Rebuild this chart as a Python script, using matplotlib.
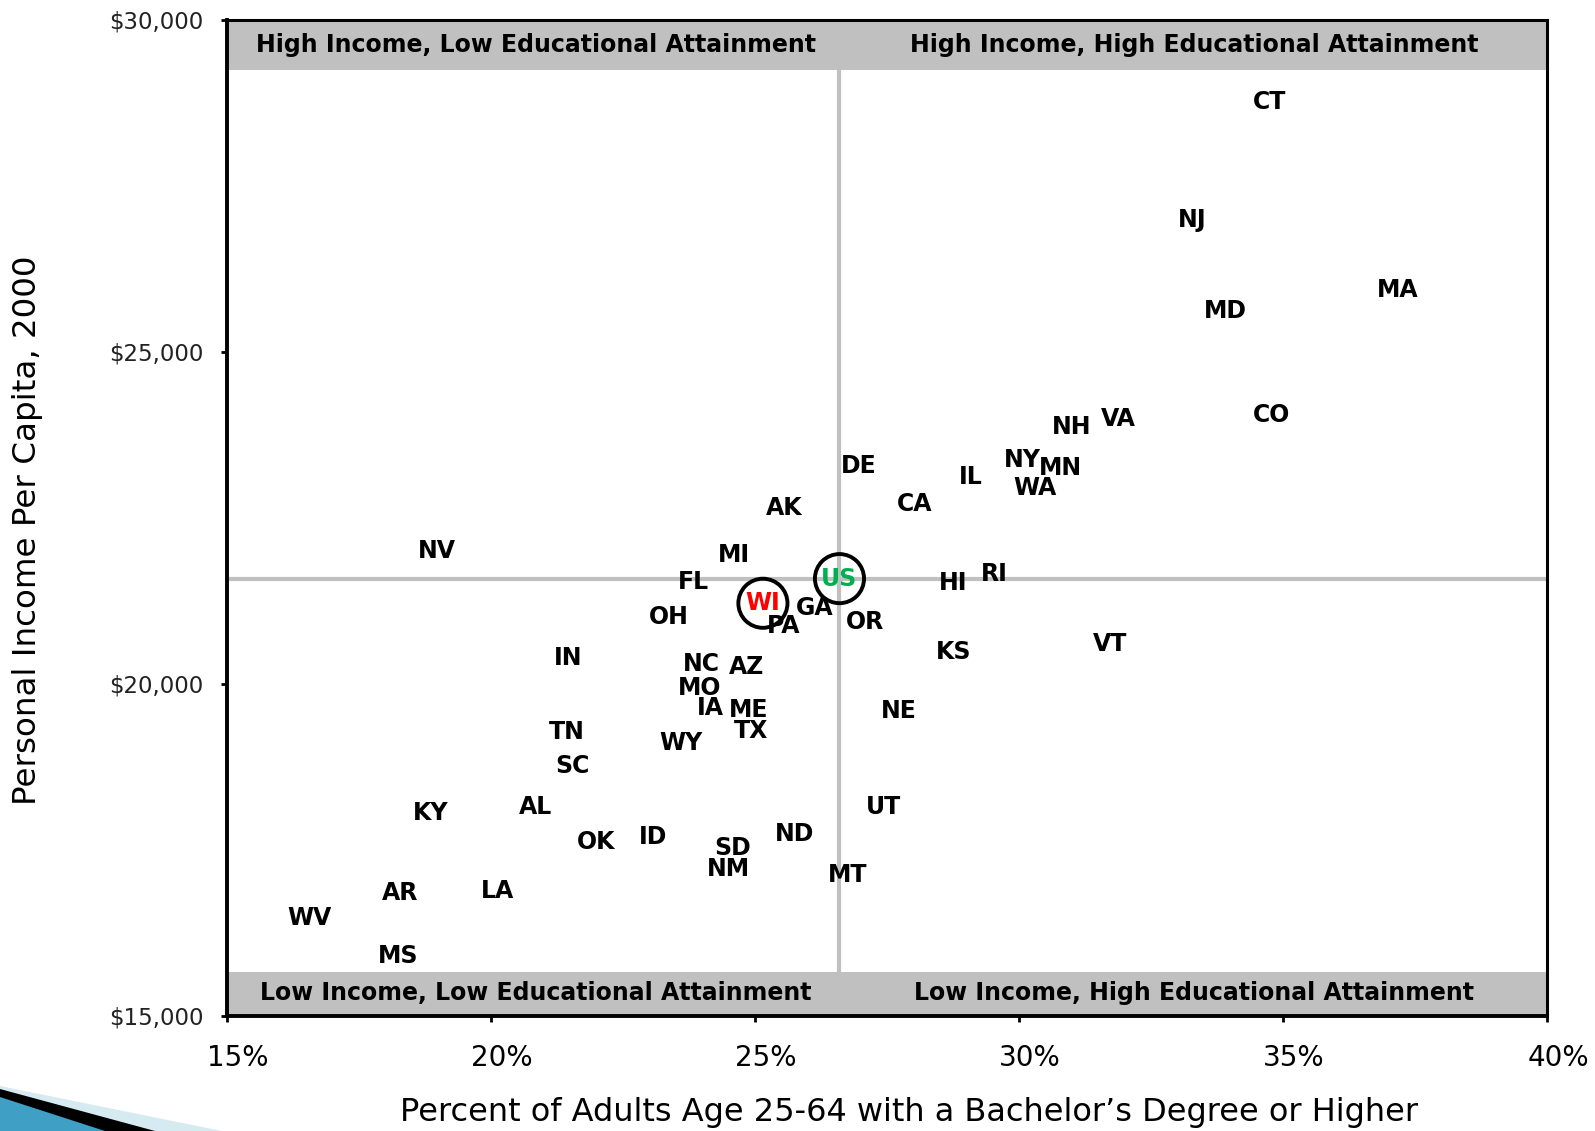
import matplotlib
matplotlib.use("Agg")
import matplotlib.pyplot as plt
from matplotlib.patches import Polygon
from matplotlib.transforms import ScaledTranslation
from matplotlib.ticker import FuncFormatter

# ---------------- data ----------------
states = ["CT", "NJ", "MA", "MD", "CO", "VA", "NH", "DE", "NY", "MN",
          "IL", "WA", "CA", "AK", "NV", "MI", "RI", "HI", "FL", "WI",
          "GA", "OH", "PA", "OR", "KS", "VT", "IN", "NC", "AZ", "MO",
          "IA", "ME", "NE", "TX", "TN", "WY", "SC", "UT", "AL", "KY",
          "ND", "ID", "OK", "SD", "NM", "MT", "AR", "LA", "WV", "MS"]
pct_bachelor = [34.75, 33.28, 37.17, 33.90, 34.79, 31.88, 31.00, 26.96, 30.07, 30.79,
                29.09, 30.31, 28.03, 25.55, 18.98, 24.61, 29.53, 28.75, 23.84, 25.15,
                26.13, 23.36, 25.55, 27.09, 28.77, 31.73, 21.46, 23.98, 24.84, 23.96,
                24.15, 24.88, 27.73, 24.92, 21.44, 23.59, 21.54, 27.44, 20.84, 18.86,
                25.75, 23.07, 22.00, 24.57, 24.50, 26.75, 18.27, 20.13, 16.57, 18.25]
income = [28770, 26990, 25935, 25614, 24051, 23990, 23867, 23285, 23378, 23254,
          23116, 22948, 22718, 22657, 21998, 21937, 21661, 21523, 21538, 21216,
          21140, 21002, 20879, 20940, 20481, 20603, 20389, 20297, 20251, 19945,
          19638, 19608, 19593, 19286, 19270, 19117, 18765, 18152, 18152, 18060,
          17738, 17691, 17615, 17523, 17217, 17125, 16849, 16879, 16480, 15898]
us_label = "US"
us_pct = 26.6
us_income = 21587
highlight_state = "WI"

x_ticks = [15, 20, 25, 30, 35, 40]
y_ticks = [15000, 20000, 25000, 30000]
quadrant_labels = ["High Income, Low Educational Attainment",
                   "High Income, High Educational Attainment",
                   "Low Income, Low Educational Attainment",
                   "Low Income, High Educational Attainment"]
x_title = "Percent of Adults Age 25-64 with a Bachelor\u2019s Degree or Higher"
y_title = "Personal Income Per Capita, 2000"

# ---------------- figure ----------------
W, H = 1595, 1131
plt.rcParams['font.family'] = ['DejaVu Sans']
fig = plt.figure(figsize=(W / 100, H / 100), dpi=100)

left, right, bottom, top = 227 / W, 1547 / W, 1 - 1016 / H, 1 - 20 / H
ax = fig.add_axes([left, bottom, right - left, top - bottom])
ax.set_xlim(15, 40)
ax.set_ylim(15000, 30000)

grey = "#c0c0c0"
# quadrant dividing lines at US values
ax.axvline(us_pct, color=grey, lw=3, zorder=1)
ax.axhline(us_income, color=grey, lw=3, zorder=1)
# grey bands
ax.axhspan(29250, 30000, color=grey, zorder=2, lw=0)
ax.axhspan(15000, 15660, color=grey, zorder=2, lw=0)

# quadrant labels
qpos = [(0.2338, 0.9749), (0.7326, 0.9749), (0.2338, 0.0231), (0.7326, 0.0231)]
for (qx, qy), lab in zip(qpos, quadrant_labels):
    ax.text(qx, qy, lab, transform=ax.transAxes, ha="center", va="center",
            fontsize=17, fontweight="bold", zorder=4)

# state labels
for s, xv, yv in zip(states, pct_bachelor, income):
    col = "#ff0000" if s == highlight_state else "black"
    ax.text(xv, yv, s, ha="center", va="center", fontsize=17,
            fontweight="bold", color=col, zorder=5)
    if s == highlight_state:
        ax.scatter([xv], [yv], s=1250, facecolors="none", edgecolors="black",
                   linewidths=2.8, zorder=6)

ax.text(us_pct, us_income, us_label, ha="center", va="center", fontsize=17,
        fontweight="bold", color="#00b050", zorder=5)
ax.scatter([us_pct], [us_income], s=1250, facecolors="none", edgecolors="black",
           linewidths=2.8, zorder=6)

# axes styling
for sp in ax.spines.values():
    sp.set_color("black")
    sp.set_linewidth(2.2)
    sp.set_zorder(7)
ax.spines["left"].set_linewidth(2.8)
ax.spines["bottom"].set_linewidth(2.8)

ax.set_xticks(x_ticks)
ax.set_yticks(y_ticks)
ax.xaxis.set_major_formatter(FuncFormatter(lambda v, p: f"{v:.0f}%"))
ax.yaxis.set_major_formatter(FuncFormatter(lambda v, p: f"${v:,.0f}"))
ax.tick_params(axis="x", direction="out", length=4, width=2, labelsize=20,
               pad=16, colors="black")
ax.tick_params(axis="y", direction="out", length=4, width=2, labelsize=16.5,
               pad=13, colors="black")
for lab in ax.get_xticklabels():
    lab.set_transform(lab.get_transform() + ScaledTranslation(0.11, 0, fig.dpi_scale_trans))
for lab in ax.get_yticklabels():
    lab.set_color("#222222")

fig.text(909 / W, 1 - 1112 / H, x_title, ha="center", va="center", fontsize=23)
fig.text(27.5 / W, 1 - 530 / H, y_title, ha="center", va="center",
         fontsize=23.4, rotation=90)

# decorative swoosh in the lower-left corner
def fpoly(pts, color):
    fig.add_artist(Polygon([(x / W, 1 - y / H) for x, y in pts], closed=True,
                           transform=fig.transFigure, facecolor=color,
                           edgecolor="none"))

fpoly([(0, 1086), (0, 1131), (222, 1131)], "#d6eaf2")
fpoly([(0, 1089), (0, 1131), (155, 1131)], "black")
fpoly([(0, 1097), (0, 1131), (105, 1131)], "#3f9fc4")

fig.savefig("out.png", dpi=100)
